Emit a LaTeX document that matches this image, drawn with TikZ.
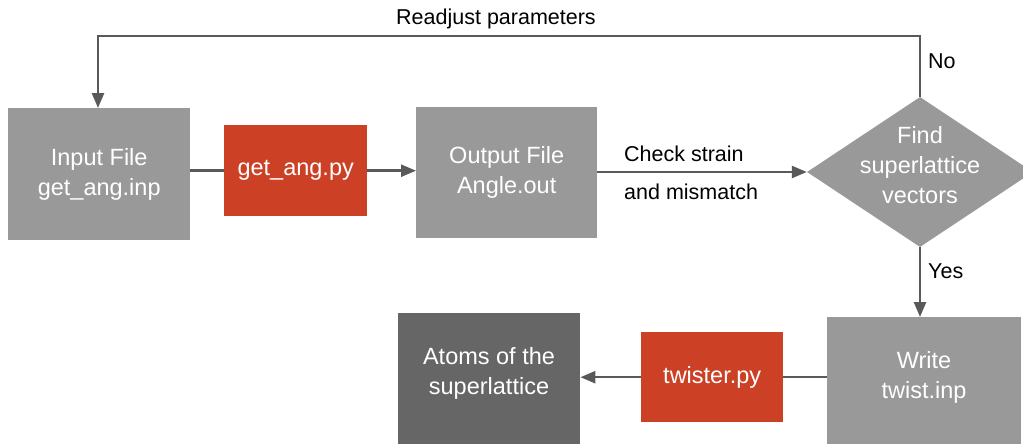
\documentclass[tikz,border=0pt]{standalone}
\usepackage{fontspec}
\setmainfont{Liberation Sans}
\usetikzlibrary{arrows.meta,shapes.geometric}
\definecolor{boxgray}{HTML}{999999}
\definecolor{darkbox}{HTML}{666666}
\definecolor{pyred}{HTML}{CC4125}
\definecolor{linegray}{HTML}{595959}
\tikzset{
  x=1pt,y=-1pt,
  boxfont/.style={font=\fontsize{23.5}{30}\selectfont},
  procbox/.style={draw=none,fill=boxgray,text=white,align=center,inner sep=0pt,
    boxfont,anchor=north west},
  pybox/.style={procbox,fill=pyred},
  resbox/.style={procbox,fill=darkbox},
  boxtext/.style={text=white,align=center,boxfont,inner sep=0pt},
  conn/.style={draw=linegray,line width=2.5pt},
  arr/.style={conn,-{Triangle[width=12pt,length=15pt]}},
  lbl/.style={text=black,font=\fontsize{21.5}{24}\selectfont,inner sep=0pt}
}
\begin{document}
\begin{tikzpicture}
\useasboundingbox (0,0) rectangle (1023,444);
\node[procbox,minimum width=182,minimum height=132] (inp) at (8,108) {Input File\\get\_ang.inp};
\node[pybox,minimum width=143,minimum height=91] (ga) at (224,125) {get\_ang.py};
\node[procbox,minimum width=181,minimum height=131] (out) at (416,107) {Output File\\Angle.out};
\node[diamond,fill=boxgray,draw=none,inner sep=0pt,minimum width=226,minimum height=150] (dia) at (920,172) {};
\node[boxtext] (diat) at (920,165) {Find\\superlattice\\vectors};
\node[procbox,minimum width=194,minimum height=140] (wr) at (827,317) {};
\node[boxtext] (wrt) at (924,377) {Write\\twist.inp};
\node[pybox,minimum width=142,minimum height=90] (tw) at (641,332) {twister.py};
\node[resbox,minimum width=182,minimum height=140] (at) at (398,313) {};
\node[boxtext] (att) at (489,373) {Atoms of the\\superlattice};
% connectors
\draw[conn] (inp.east |- ga.west) -- (ga.west);
\draw[arr] (ga.east) -- (ga.east -| out.west);
\draw[arr] (out.east |- dia.west) -- (dia.west);
\coordinate (c1) at (920,36);
\coordinate (c2) at (98,36);
\draw[arr] (dia.north) -- (c1) -- (c2) -- (c2 |- inp.north);
\draw[arr] (dia.south) -- (dia.south |- wr.north);
\draw[conn] (wr.west |- tw.east) -- (tw.east);
\draw[arr] (tw.west) -- (tw.west -| at.east);
% labels
\node[lbl,anchor=west] (l1) at (624,154) {Check strain};
\node[lbl,anchor=west] (l2) at (624,192) {and mismatch};
\node[lbl] (l3) at (496,19) {Readjust parameters};
\node[lbl,anchor=west] (l4) at (928,61) {No};
\node[lbl,anchor=west] (l5) at (928,271) {Yes};
\end{tikzpicture}
\end{document}
